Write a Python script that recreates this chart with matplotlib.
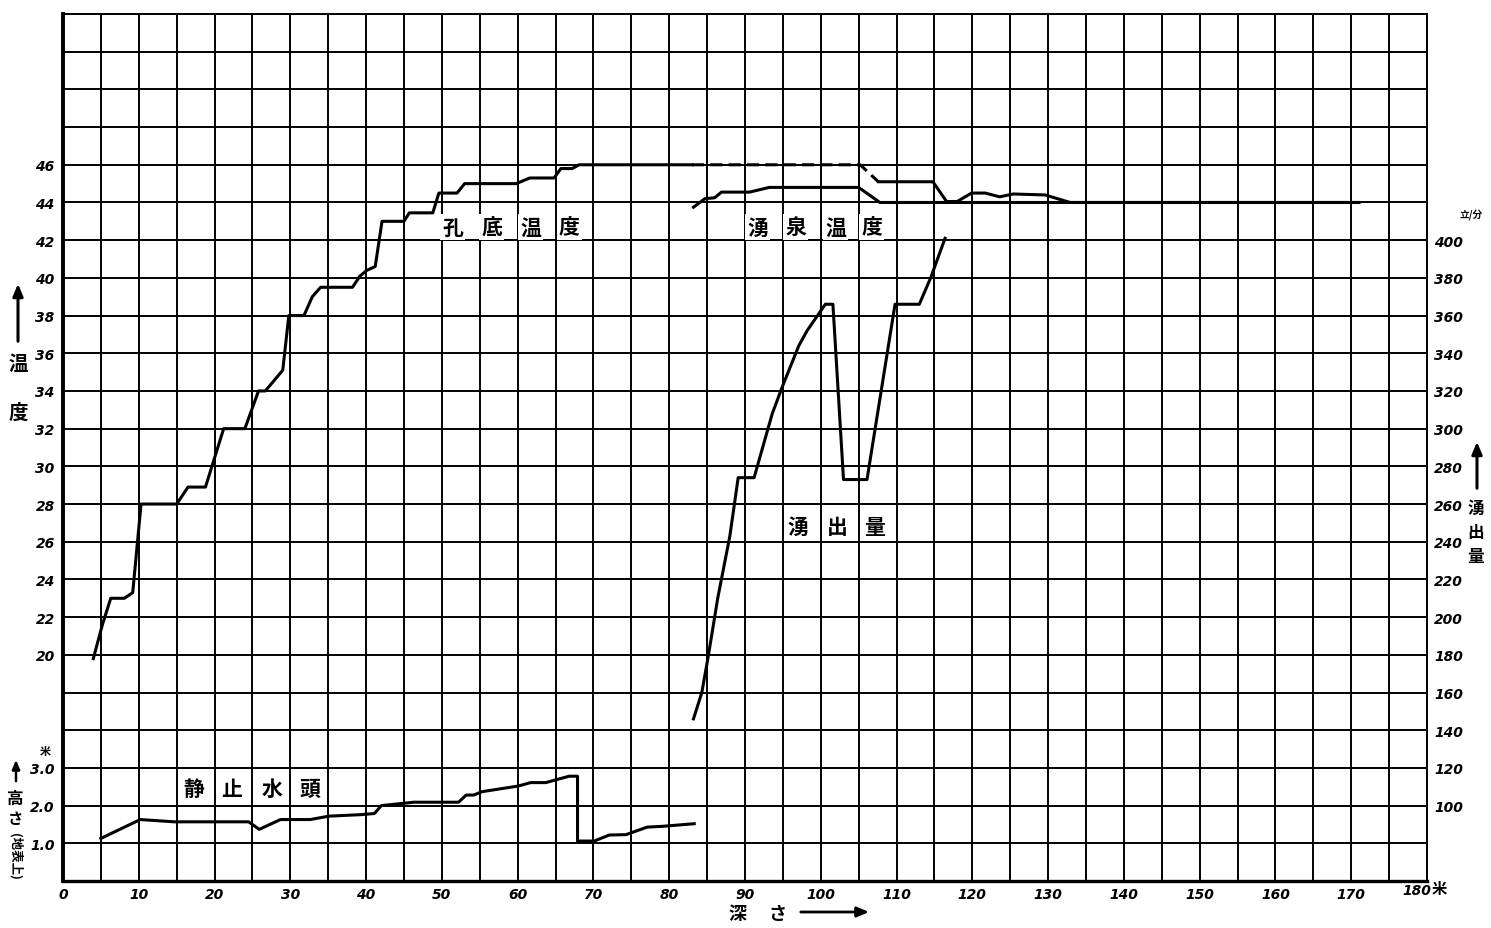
import matplotlib
matplotlib.use("Agg")
import matplotlib.pyplot as plt

plt.rcParams['font.family'] = ['Noto Sans CJK JP', 'DejaVu Sans']

# 孔底温度 (hole-bottom temperature, deg C) against depth (m)
bottom_depth = [4.0, 5.2, 6.3, 8.1, 9.2, 10.3, 15.0, 16.5, 18.8, 21.2, 24.0, 25.8, 26.7,
                29.0, 29.8, 31.8, 32.9, 34.0, 38.2, 39.2, 40.1, 41.2, 42.1, 45.0, 45.7,
                48.8, 49.6, 52.0, 53.0, 59.8, 61.6, 64.8, 65.7, 67.2, 68.1, 83.0, 105.2,
                107.6, 114.8, 116.6, 118.0, 119.9, 121.7, 123.6, 125.4, 129.6, 132.9, 171.0]
bottom_temp = [19.8, 21.6, 23.0, 23.0, 23.3, 28.0, 28.0, 28.9, 28.9, 32.0, 32.0, 34.0, 34.0,
               35.1, 38.0, 38.0, 39.0, 39.5, 39.5, 40.1, 40.4, 40.6, 43.0, 43.0, 43.45,
               43.45, 44.5, 44.5, 45.0, 45.0, 45.3, 45.3, 45.8, 45.8, 46.0, 46.0, 46.0,
               45.1, 45.1, 44.05, 44.05, 44.5, 44.5, 44.3, 44.45, 44.4, 44.0, 44.0]
DASH_FROM, DASH_TO = 35, 37  # dashed stretch (indices into bottom_*)

# 湧泉温度 (spring temperature, deg C)
spring_depth = [83.2, 84.7, 86.0, 86.9, 90.6, 93.2, 105.0, 107.8, 171.0]
spring_temp = [43.75, 44.2, 44.25, 44.55, 44.55, 44.8, 44.8, 44.0, 44.0]

# 湧出量 (discharge, litre/min)
flow_depth = [83.2, 84.3, 85.1, 86.4, 88.0, 89.1, 91.2, 93.6, 94.9, 97.1, 98.2, 100.6,
              101.6, 103.0, 106.1, 109.8, 113.0, 114.5, 116.4]
flow_rate = [146, 160, 178, 210, 243, 274, 274, 308, 322, 344, 352, 366,
             366, 273, 273, 366, 366, 380, 401]

# 静止水頭 (static head above ground, m)
head_depth = [5.0, 10.2, 14.7, 24.5, 25.9, 28.7, 32.6, 35.1, 39.3, 41.1, 42.0, 46.3, 52.2,
              53.2, 54.2, 55.3, 60.1, 61.7, 63.7, 66.8, 67.9, 67.9, 70.1, 72.1, 74.3,
              77.1, 79.1, 83.3]
head_height = [1.13, 1.63, 1.57, 1.57, 1.37, 1.63, 1.63, 1.72, 1.76, 1.79, 2.0, 2.09, 2.09,
               2.28, 2.28, 2.37, 2.52, 2.61, 2.61, 2.78, 2.78, 1.06, 1.06, 1.22, 1.23,
               1.43, 1.45, 1.52]

depth_ticks = list(range(0, 181, 10))
temp_ticks = list(range(20, 47, 2))
flow_ticks = list(range(100, 401, 20))
head_ticks = [1, 2, 3]

W, H = 1491, 929
num_font = dict(family='DejaVu Sans', weight='bold', style='italic', size=10)


def fx(px):
    return px / W


def fy(py):
    return 1 - py / H


fig = plt.figure(figsize=(W / 100, H / 100), dpi=100)
ax = fig.add_axes([fx(63), fy(882), (1427 - 63) / W, (882 - 15) / H])
ax.set_xlim(0, 180)
ax.set_ylim(8, 54)

# grid: every 5 m across, every 2 degrees up
ax.set_xticks(depth_ticks)
ax.set_xticks(range(0, 181, 5), minor=True)
ax.set_yticks(temp_ticks)
ax.set_yticks(range(8, 55, 2), minor=True)
ax.grid(which='both', color='black', linewidth=1.4)
ax.set_axisbelow(True)
ax.tick_params(which='both', length=0)
# the last label "180米" is written separately below
ax.set_xticklabels([str(t) if t < 180 else '' for t in depth_ticks], fontdict=num_font)
ax.set_yticklabels([str(t) for t in temp_ticks], fontdict=num_font)
ax.tick_params(axis='x', pad=4)
ax.tick_params(axis='y', pad=6)
for side in ['top', 'right']:
    ax.spines[side].set_linewidth(1.4)
ax.spines['left'].set_linewidth(2.8)
ax.spines['bottom'].set_linewidth(2.4)

lw = 2.2
ax.plot(bottom_depth[:DASH_FROM + 1], bottom_temp[:DASH_FROM + 1], color='black', lw=lw)
ax.plot(bottom_depth[DASH_FROM:DASH_TO + 1], bottom_temp[DASH_FROM:DASH_TO + 1],
        color='black', lw=lw, linestyle=(0, (4, 2)))
ax.plot(bottom_depth[DASH_TO:], bottom_temp[DASH_TO:], color='black', lw=lw)
ax.plot(spring_depth, spring_temp, color='black', lw=lw)

# discharge on the right axis
axf = ax.twinx()
axf.set_ylim(60, 520)
axf.set_yticks(flow_ticks)
axf.set_yticklabels([str(t) for t in flow_ticks], fontdict=num_font)
axf.tick_params(length=0, pad=5)
for s in axf.spines.values():
    s.set_visible(False)
axf.plot(flow_depth, flow_rate, color='black', lw=lw)

# static head, labelled on the left
axh = ax.twinx()
axh.set_ylim(0, 23)
axh.yaxis.tick_left()
axh.set_yticks(head_ticks)
axh.set_yticklabels(['%.1f' % t for t in head_ticks], fontdict=num_font)
axh.tick_params(length=0, pad=6)
for s in axh.spines.values():
    s.set_visible(False)
axh.plot(head_depth, head_height, color='black', lw=lw)

# curve names, one character per cell
box = dict(facecolor='white', edgecolor='none', pad=1.5)
cjk = dict(fontsize=15, fontweight='bold', ha='center', va='center', bbox=box)
for ch, d in zip('孔底温度', [51.4, 56.6, 61.7, 66.8]):
    ax.text(d, 42.7, ch, **cjk)
for ch, d in zip('湧泉温度', [91.7, 96.7, 102.0, 106.7]):
    ax.text(d, 42.7, ch, **cjk)
for ch, d in zip('湧出量', [97.0, 102.2, 107.1]):
    ax.text(d, 26.8, ch, **cjk)
for ch, d in zip('静止水頭', [17.2, 22.2, 27.6, 32.6]):
    ax.text(d, 12.9, ch, **cjk)

# axis captions
arrowstyle = '-|>,head_width=0.25,head_length=0.6'


def up_arrow(x0, y0, x1, y1, lw=2.2, scale=12):
    fig.add_artist(matplotlib.patches.FancyArrowPatch(
        (fx(x0), fy(y0)), (fx(x1), fy(y1)), transform=fig.transFigure,
        arrowstyle=arrowstyle, color='black', lw=lw, mutation_scale=scale))


fig.text(fx(1431), fy(891), '180', ha='right', va='center', **num_font)
fig.text(fx(1432), fy(889), '米', fontsize=11, fontweight='bold', ha='left', va='center')
fig.text(fx(737), fy(915), '深', fontsize=13, fontweight='bold', ha='center', va='center')
fig.text(fx(777), fy(915), 'さ', fontsize=13, fontweight='bold', ha='center', va='center')
up_arrow(798, 913, 872, 913, lw=2.0)

up_arrow(18, 345, 18, 282)
fig.text(fx(18), fy(364), '温', fontsize=14, fontweight='bold', ha='center', va='center')
fig.text(fx(18), fy(413), '度', fontsize=14, fontweight='bold', ha='center', va='center')

fig.text(fx(45), fy(752), '米', fontsize=8, fontweight='bold', ha='center', va='center')
up_arrow(16, 785, 16, 758, lw=1.8, scale=9)
fig.text(fx(15), fy(799), '高', fontsize=12, fontweight='bold', ha='center', va='center')
fig.text(fx(15), fy(819), 'さ', fontsize=11, fontweight='bold', ha='center', va='center')
fig.text(fx(15), fy(856), '(地表上)', fontsize=9, fontweight='bold', ha='center',
         va='center', rotation=270)

fig.text(fx(1471), fy(215), '立/分', fontsize=7, fontweight='bold', ha='center', va='center')
up_arrow(1477, 492, 1477, 440)
fig.text(fx(1476), fy(509), '湧', fontsize=12, fontweight='bold', ha='center', va='center')
fig.text(fx(1476), fy(533), '出', fontsize=12, fontweight='bold', ha='center', va='center')
fig.text(fx(1476), fy(557), '量', fontsize=12, fontweight='bold', ha='center', va='center')

fig.savefig('out.png', dpi=100, facecolor='white')
